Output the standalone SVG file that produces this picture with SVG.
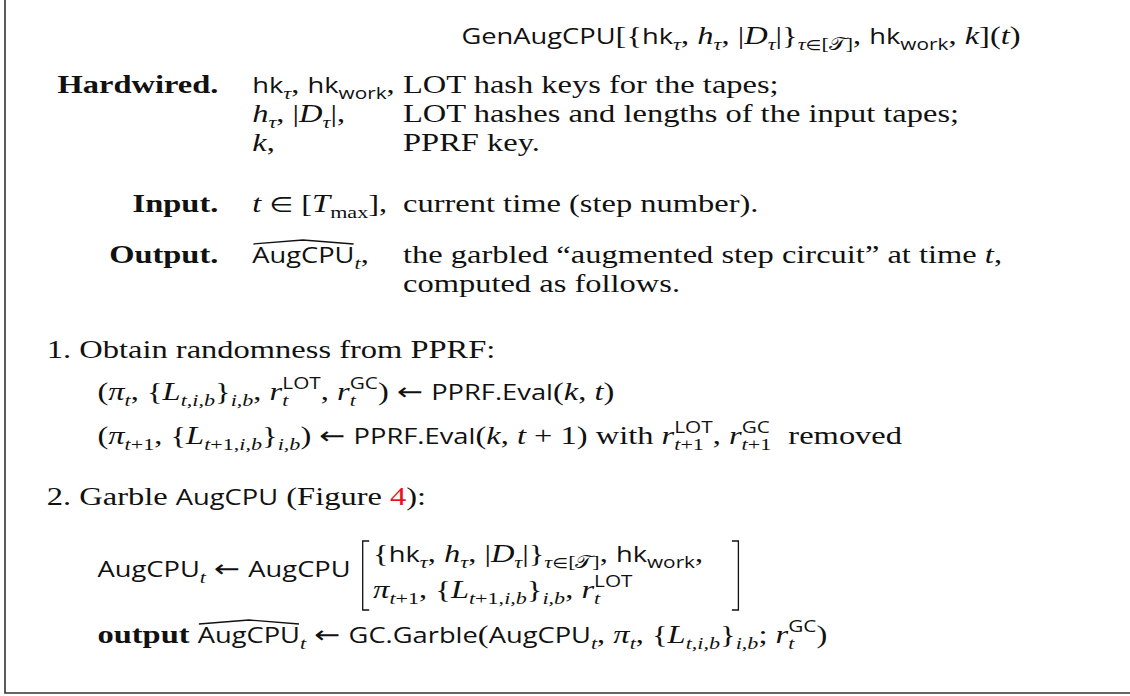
<svg xmlns="http://www.w3.org/2000/svg" width="1130" height="696" viewBox="0 0 1130 696">
  <style>
    text { font-family: "Liberation Serif", serif; font-size: 25px; fill: #111; }
    .sf { font-family: "Open Sans", sans-serif; font-size: 21px; }
    .sfs { font-family: "Open Sans", sans-serif; font-size: 16px; font-style: normal; }
    .it { font-style: italic; }
    .bf { font-weight: bold; }
    .sb { font-size: 17px; }
    .sym { font-family: "DejaVu Sans", sans-serif; font-size: 21px; font-style: normal; }
    .arr { font-family: "DejaVu Sans", sans-serif; font-size: 24px; font-style: normal; }
    .syms { font-family: "DejaVu Sans", sans-serif; font-size: 14px; font-style: normal; }
    .cal { font-family: "DejaVu Sans", serif; font-style: normal; }
    .red { fill: #e8141c; }
    .frame { fill: none; stroke: #333; stroke-width: 1.6; }
    .rule { fill: none; stroke: #111; stroke-width: 1.3; vector-effect: non-scaling-stroke; }
  </style>

  <!-- frame (left and bottom edges) -->
  <path class="frame" d="M5,0 V693 H1130"/>

  <!-- the typeset content is set with a wide horizontal scale -->
  <g transform="scale(1.3,1)">

    <g id="title">
      <text x="570" y="44" text-anchor="middle"><tspan class="sf">GenAugCPU</tspan>[{<tspan class="sf">hk</tspan><tspan class="it sb" dy="6">τ</tspan><tspan dy="-6">, </tspan><tspan class="it">h</tspan><tspan class="it sb" dy="6">τ</tspan><tspan dy="-6">, |</tspan><tspan class="it">D</tspan><tspan class="it sb" dy="6">τ</tspan><tspan dy="-6">|}</tspan><tspan class="sb" dy="6"><tspan class="it">τ</tspan><tspan class="syms">∈</tspan>[<tspan class="cal">𝒯</tspan>]</tspan><tspan dy="-6">, </tspan><tspan class="sf">hk</tspan><tspan class="sfs" dy="6">work</tspan><tspan dy="-6">, </tspan><tspan class="it">k</tspan>](<tspan class="it">t</tspan>)</text>
    </g>

    <g id="hardwired">
      <text class="bf" x="168" y="93" text-anchor="end">Hardwired.</text>
      <text x="194" y="93"><tspan class="sf">hk</tspan><tspan class="it sb" dy="6">τ</tspan><tspan dy="-6">, </tspan><tspan class="sf">hk</tspan><tspan class="sfs" dy="6">work</tspan><tspan dy="-6">,</tspan></text>
      <text x="310" y="93">LOT hash keys for the tapes;</text>
      <text x="194" y="122"><tspan class="it">h</tspan><tspan class="it sb" dy="6">τ</tspan><tspan dy="-6">, |</tspan><tspan class="it">D</tspan><tspan class="it sb" dy="6">τ</tspan><tspan dy="-6">|,</tspan></text>
      <text x="310" y="122">LOT hashes and lengths of the input tapes;</text>
      <text x="194" y="151"><tspan class="it">k</tspan>,</text>
      <text x="310" y="151">PPRF key.</text>
    </g>

    <g id="input">
      <text class="bf" x="168" y="212" text-anchor="end">Input.</text>
      <text x="194" y="212"><tspan class="it">t</tspan> <tspan class="sym">∈</tspan> [<tspan class="it">T</tspan><tspan class="sb" dy="6">max</tspan><tspan dy="-6">],</tspan></text>
      <text x="310" y="212">current time (step number).</text>
    </g>

    <g id="output">
      <text class="bf" x="168" y="263" text-anchor="end">Output.</text>
      <path class="rule" d="M195,244 L233,240 L272,244"/>
      <text x="194" y="263"><tspan class="sf">AugCPU</tspan><tspan class="it sb" dy="6">t</tspan><tspan dy="-6">,</tspan></text>
      <text x="310" y="263">the garbled “augmented step circuit” at time <tspan class="it">t</tspan>,</text>
      <text x="310" y="292">computed as follows.</text>
    </g>

    <g id="step1">
      <text x="36" y="358">1. Obtain randomness from PPRF:</text>
      <text x="75" y="400">(<tspan class="it">π</tspan><tspan class="it sb" dy="6">t</tspan><tspan dy="-6">, {</tspan><tspan class="it">L</tspan><tspan class="it sb" dy="6">t,i,b</tspan><tspan dy="-6">}</tspan><tspan class="it sb" dy="6">i,b</tspan><tspan dy="-6">, </tspan><tspan class="it">r</tspan><tspan class="it sb" dy="6">t</tspan><tspan class="sfs" dx="-4.7" dy="-17">LOT</tspan><tspan dy="11">, </tspan><tspan class="it">r</tspan><tspan class="it sb" dy="6">t</tspan><tspan class="sfs" dx="-4.7" dy="-17">GC</tspan><tspan dy="11">) </tspan><tspan class="arr">←</tspan> <tspan class="sf">PPRF.Eval</tspan>(<tspan class="it">k</tspan>, <tspan class="it">t</tspan>)</text>
      <text x="75" y="444">(<tspan class="it">π</tspan><tspan class="it sb" dy="6">t</tspan><tspan class="sb">+1</tspan><tspan dy="-6">, {</tspan><tspan class="it">L</tspan><tspan class="it sb" dy="6">t</tspan><tspan class="sb">+1,</tspan><tspan class="it sb">i,b</tspan><tspan dy="-6">}</tspan><tspan class="it sb" dy="6">i,b</tspan><tspan dy="-6">) </tspan><tspan class="arr">←</tspan> <tspan class="sf">PPRF.Eval</tspan>(<tspan class="it">k</tspan>, <tspan class="it">t</tspan> + 1) with <tspan class="it">r</tspan><tspan class="it sb" dy="6">t</tspan><tspan class="sb">+1</tspan><tspan class="sfs" dx="-22.8" dy="-17">LOT</tspan><tspan dy="11">, </tspan><tspan class="it">r</tspan><tspan class="it sb" dy="6">t</tspan><tspan class="sb">+1</tspan><tspan class="sfs" dx="-22.8" dy="-17">GC</tspan><tspan dx="8" dy="11"> removed</tspan></text>
    </g>

    <g id="step2">
      <text x="36" y="505">2. Garble <tspan class="sf">AugCPU</tspan> (Figure <tspan class="red">4</tspan>):</text>
      <text x="75" y="577"><tspan class="sf">AugCPU</tspan><tspan class="it sb" dy="6">t</tspan><tspan dy="-6"> </tspan><tspan class="arr">←</tspan> <tspan class="sf">AugCPU</tspan></text>
      <path class="rule" d="M284,541 H279 V610 H284"/>
      <text x="287" y="562">{<tspan class="sf">hk</tspan><tspan class="it sb" dy="6">τ</tspan><tspan dy="-6">, </tspan><tspan class="it">h</tspan><tspan class="it sb" dy="6">τ</tspan><tspan dy="-6">, |</tspan><tspan class="it">D</tspan><tspan class="it sb" dy="6">τ</tspan><tspan dy="-6">|}</tspan><tspan class="sb" dy="6"><tspan class="it">τ</tspan><tspan class="syms">∈</tspan>[<tspan class="cal">𝒯</tspan>]</tspan><tspan dy="-6">, </tspan><tspan class="sf">hk</tspan><tspan class="sfs" dy="6">work</tspan><tspan dy="-6">,</tspan></text>
      <text x="287" y="598"><tspan class="it">π</tspan><tspan class="it sb" dy="6">t</tspan><tspan class="sb">+1</tspan><tspan dy="-6">, {</tspan><tspan class="it">L</tspan><tspan class="it sb" dy="6">t</tspan><tspan class="sb">+1,</tspan><tspan class="it sb">i,b</tspan><tspan dy="-6">}</tspan><tspan class="it sb" dy="6">i,b</tspan><tspan dy="-6">, </tspan><tspan class="it">r</tspan><tspan class="it sb" dy="6">t</tspan><tspan class="sfs" dx="-4.7" dy="-17">LOT</tspan></text>
      <path class="rule" d="M563,541 H568 V610 H563"/>
      <path class="rule" d="M153,624 L191.5,620 L230,624"/>
      <text x="75" y="643"><tspan class="bf">output</tspan> <tspan class="sf">AugCPU</tspan><tspan class="it sb" dy="6">t</tspan><tspan dy="-6"> </tspan><tspan class="arr">←</tspan> <tspan class="sf">GC.Garble</tspan>(<tspan class="sf">AugCPU</tspan><tspan class="it sb" dy="6">t</tspan><tspan dy="-6">, </tspan><tspan class="it">π</tspan><tspan class="it sb" dy="6">t</tspan><tspan dy="-6">, {</tspan><tspan class="it">L</tspan><tspan class="it sb" dy="6">t,i,b</tspan><tspan dy="-6">}</tspan><tspan class="it sb" dy="6">i,b</tspan><tspan dy="-6">; </tspan><tspan class="it">r</tspan><tspan class="it sb" dy="6">t</tspan><tspan class="sfs" dx="-4.7" dy="-17">GC</tspan><tspan dy="11">)</tspan></text>
    </g>
  </g>
</svg>
